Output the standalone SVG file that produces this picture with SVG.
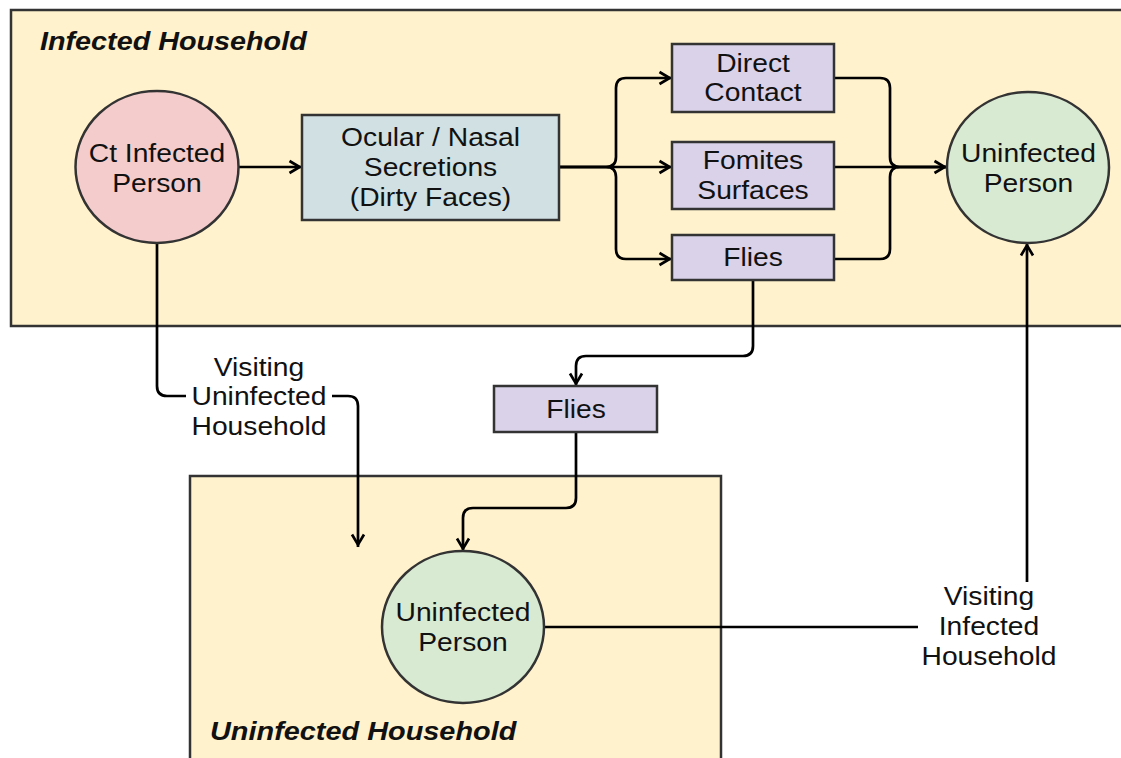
<svg xmlns="http://www.w3.org/2000/svg" width="1121" height="758" viewBox="0 0 1121 758">
<style>
  .container { fill: #fff2cc; stroke: #333; stroke-width: 2.5; }
  .box { stroke: #333; stroke-width: 2.5; }
  .ocular { fill: #d0e0e3; }
  .purple { fill: #d9d2e9; }
  .pink { fill: #f4cccc; stroke: #333; stroke-width: 2.5; }
  .green { fill: #d9ead3; stroke: #333; stroke-width: 2.5; }
  .edge { fill: none; stroke: #000; stroke-width: 2.7; }
  .lbl { font-family: "Liberation Sans", Arial, sans-serif; font-size: 25px; fill: #111; text-anchor: middle; }
  .head { font-family: "Liberation Sans", Arial, sans-serif; font-size: 25px; font-weight: bold; font-style: italic; fill: #111; text-anchor: start; }
</style>
<defs>
  <marker id="arr" viewBox="-16 -9 18 18" refX="0" refY="0" markerWidth="18" markerHeight="18" orient="auto" markerUnits="userSpaceOnUse">
    <path d="M-12.5,-6 L-2.3,0 L-12.5,6" fill="none" stroke="#000" stroke-width="2.7"/>
  </marker>
</defs>
<rect width="1121" height="758" fill="#fff"/>

<g id="infected-household">
  <rect class="container" x="11" y="10" width="1125" height="316"/>
  <g transform="translate(40,0) scale(1.15,1)"><text class="head" x="0" y="50">Infected Household</text></g>
</g>
<g id="uninfected-household">
  <rect class="container" x="190" y="476" width="531" height="300"/>
  <g transform="translate(210,0) scale(1.155,1)"><text class="head" x="0" y="740">Uninfected Household</text></g>
</g>

<g id="connectors">
  <path class="edge" d="M238,167 H302" marker-end="url(#arr)"/>
  <path class="edge" d="M559,167 H606 Q616,167 616,157 V88 Q616,78 626,78 H672" marker-end="url(#arr)"/>
  <path class="edge" d="M559,167 H672" marker-end="url(#arr)"/>
  <path class="edge" d="M559,167 H606 Q616,167 616,177 V249 Q616,259 626,259 H672" marker-end="url(#arr)"/>
  <path class="edge" d="M834,78 H880 Q890,78 890,88 V157 Q890,167 900,167 H946"/>
  <path class="edge" d="M834,259 H880 Q890,259 890,249 V177 Q890,167 900,167 H946"/>
  <path class="edge" d="M834,167 H947" marker-end="url(#arr)"/>
  <path class="edge" d="M753,280 V346 Q753,356 743,356 H586 Q576,356 576,366 V386" marker-end="url(#arr)"/>
  <path class="edge" d="M576,432 V498 Q576,508 566,508 H473 Q463,508 463,518 V551" marker-end="url(#arr)"/>
  <path class="edge" d="M157,243 V386 Q157,396 167,396 H186"/>
  <path class="edge" d="M332,396 H348 Q358,396 358,406 V547" marker-end="url(#arr)"/>
  <path class="edge" d="M544,627 H918"/>
  <path class="edge" d="M1027,582 V243" marker-end="url(#arr)"/>
  <g transform="translate(259,0) scale(1.13,1)">
    <text class="lbl" x="0" y="376">Visiting</text>
    <text class="lbl" x="0" y="405">Uninfected</text>
    <text class="lbl" x="0" y="435">Household</text>
  </g>
  <g transform="translate(989,0) scale(1.13,1)">
    <text class="lbl" x="0" y="605">Visiting</text>
    <text class="lbl" x="0" y="635">Infected</text>
    <text class="lbl" x="0" y="665">Household</text>
  </g>
</g>

<g id="ct-infected-person">
  <ellipse class="pink" cx="157" cy="167" rx="81.5" ry="76"/>
  <g transform="translate(157,0) scale(1.13,1)">
    <text class="lbl" x="0" y="162">Ct Infected</text>
    <text class="lbl" x="0" y="192">Person</text>
  </g>
</g>
<g id="ocular-nasal">
  <rect class="box ocular" x="302" y="115" width="257" height="105"/>
  <g transform="translate(430.5,0) scale(1.13,1)">
    <text class="lbl" x="0" y="146.5">Ocular / Nasal</text>
    <text class="lbl" x="0" y="176.5">Secretions</text>
    <text class="lbl" x="0" y="206">(Dirty Faces)</text>
  </g>
</g>
<g id="direct-contact">
  <rect class="box purple" x="672" y="44" width="162" height="68"/>
  <g transform="translate(753,0) scale(1.13,1)">
    <text class="lbl" x="0" y="72">Direct</text>
    <text class="lbl" x="0" y="101">Contact</text>
  </g>
</g>
<g id="fomites-surfaces">
  <rect class="box purple" x="672" y="142" width="162" height="67"/>
  <g transform="translate(753,0) scale(1.13,1)">
    <text class="lbl" x="0" y="169">Fomites</text>
    <text class="lbl" x="0" y="199">Surfaces</text>
  </g>
</g>
<g id="flies-top">
  <rect class="box purple" x="672" y="235" width="162" height="45"/>
  <g transform="translate(753,0) scale(1.13,1)">
    <text class="lbl" x="0" y="266.5">Flies</text>
  </g>
</g>
<g id="uninfected-person-top">
  <ellipse class="green" cx="1028" cy="167.5" rx="81" ry="75.5"/>
  <g transform="translate(1028.5,0) scale(1.13,1)">
    <text class="lbl" x="0" y="162">Uninfected</text>
    <text class="lbl" x="0" y="192">Person</text>
  </g>
</g>
<g id="flies-middle">
  <rect class="box purple" x="494" y="386" width="163" height="46"/>
  <g transform="translate(576,0) scale(1.13,1)">
    <text class="lbl" x="0" y="418">Flies</text>
  </g>
</g>
<g id="uninfected-person-bottom">
  <ellipse class="green" cx="463" cy="627" rx="81" ry="76"/>
  <g transform="translate(463,0) scale(1.13,1)">
    <text class="lbl" x="0" y="621">Uninfected</text>
    <text class="lbl" x="0" y="651">Person</text>
  </g>
</g>
</svg>
